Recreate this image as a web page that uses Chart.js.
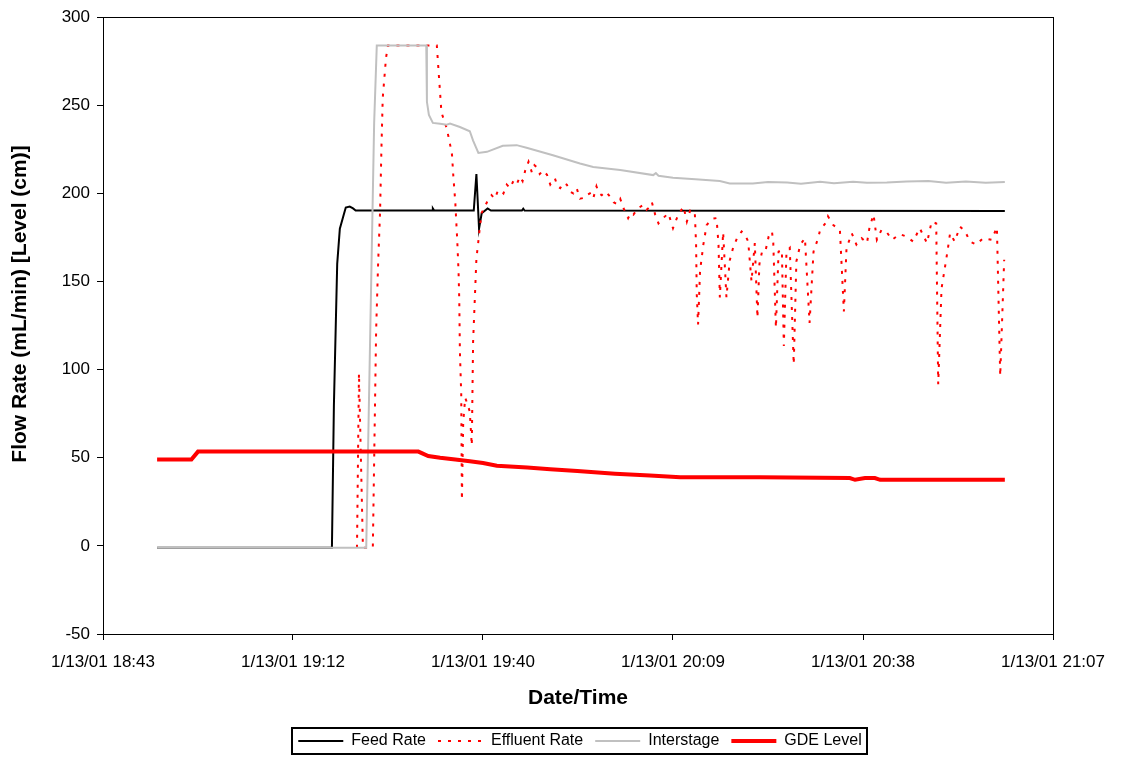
<!DOCTYPE html>
<html>
<head>
<meta charset="utf-8">
<script src="https://cdn.jsdelivr.net/npm/chart.js@4.4.1/dist/chart.umd.min.js"></script>
<style>
  html, body { margin: 0; padding: 0; background: #fff; }
  canvas { display: block; }
</style>
</head>
<body>
<canvas id="flowChart" width="1121" height="757"></canvas>
<script>
// Times are minutes since midnight on 1/13/01
const feedTime = [1131.4, 1157.9, 1158.2, 1158.7, 1159.1, 1159.7, 1160.0, 1160.6, 1161.1, 1161.5,
    1173.1, 1173.2, 1173.4, 1179.4, 1179.8, 1180.2, 1180.6, 1181.5, 1182.0,
    1186.7, 1186.9, 1187.1, 1259.9];
const feedRate = [-1, -1, 80, 160, 180, 188, 192, 192.5, 191.5, 190.3,
    190.3, 191.5, 190.3, 190.3, 211, 180, 188.7, 191.5, 190.3,
    190.3, 191.3, 190.3, 190];

// effluent sits under the interstage trace until ~19:21, so it is drawn from there
const effluentTime = [1161.7, 1162.0, 1162.6, 1164.1, 1164.6, 1164.9, 1165.2, 1165.4, 1165.6,
    1166.1, 1166.4, 1173.8, 1174.0, 1174.5, 1175.3, 1175.8, 1176.1, 1176.3, 1176.6,
    1176.9, 1177.1, 1177.2, 1177.3, 1177.5, 1177.6, 1177.8, 1178.1, 1178.5, 1178.8,
    1179.1, 1179.3, 1179.6, 1179.8, 1180.1, 1180.3, 1180.6, 1181.0, 1181.4, 1181.8,
    1182.1, 1182.6, 1183.0, 1183.4, 1183.9, 1184.4, 1184.9, 1185.4, 1185.9, 1186.4,
    1186.8, 1187.2, 1187.7, 1188.2, 1188.6, 1188.9, 1189.4, 1189.9, 1190.5, 1191.0,
    1191.7, 1192.1, 1192.5, 1193.0, 1193.5, 1194.0, 1194.5, 1195.0, 1195.5, 1196.3,
    1196.5, 1197.0, 1197.5, 1198.0, 1198.4, 1198.8, 1199.4, 1200.1, 1200.6, 1201.1,
    1201.6, 1202.1, 1202.8, 1203.2, 1203.6, 1204.3, 1205.1, 1205.6, 1206.0, 1206.4,
    1206.9, 1207.4, 1208.1, 1208.9, 1209.6, 1210.4, 1211.2, 1211.7, 1212.2, 1212.9,
    1213.1, 1213.2, 1213.4, 1213.7, 1214.2, 1214.7, 1215.5, 1216.2, 1216.5, 1216.7,
    1217.2, 1217.7, 1218.2, 1218.7, 1219.3, 1220.0, 1220.5, 1221.0, 1221.5, 1222.0,
    1222.4, 1222.7, 1223.1, 1223.6, 1224.1, 1224.6, 1224.8, 1225.2, 1225.6, 1226.1,
    1226.4, 1226.8, 1227.3, 1227.9, 1228.3, 1228.9, 1229.6, 1230.3, 1230.9, 1231.6,
    1231.9, 1232.9, 1233.1, 1233.9, 1234.9, 1235.5, 1235.9, 1236.7, 1237.4, 1238.2,
    1239.0, 1239.4, 1240.0, 1240.5, 1241.2, 1242.0, 1242.8, 1244.0, 1245.0, 1246.0,
    1247.0, 1248.1, 1248.8, 1249.5, 1249.8, 1250.3, 1250.8, 1251.2, 1251.6, 1252.3,
    1253.1, 1253.9, 1254.6, 1255.6, 1256.6, 1257.9, 1258.7, 1259.2, 1259.8];
const effluentRate = [-1, 98, -1, -1, 122, 160, 190, 225, 254,
    277, 284, 284, 273, 246, 237, 228, 222, 210, 195,
    173, 155, 140, 110, 86, 26, 70, 84, 80, 76,
    57, 116, 144, 163, 173, 180, 189, 192, 195, 197,
    199, 197, 201, 202, 200, 205, 203, 207, 205, 209.5,
    207, 213, 218, 212, 216, 215, 211, 213, 210.6, 205,
    208.5, 204, 203, 206, 205, 201, 200, 203, 197, 197.6,
    199, 200, 197, 204, 200, 199, 201, 198, 195, 194,
    197, 191.6, 186, 189, 188, 191.6, 193.5, 190.7, 192, 195,
    188, 183, 186, 188.7, 180.3, 188, 192.5, 184, 190.3, 189.7,
    171, 143, 125.6, 156, 171, 182, 185.6, 186, 171, 141,
    178, 141, 162, 169, 174.6, 178.4, 176.6, 172.7, 150, 171.8,
    129.4, 160, 167, 167, 175.6, 178.4, 172, 123.7, 167, 168,
    113.4, 167, 169, 103, 161.4, 171, 174.6, 126.5, 167, 174.6,
    179.3, 184, 187, 182, 179.3, 133, 169, 177.4, 171, 174.6,
    171.8, 181, 188, 173.7, 179.3, 178, 173.7, 176.9, 175.5, 172.7,
    180.3, 171.8, 184, 183, 91.7, 146, 157.6, 167, 177.4, 172.7,
    181.2, 178.4, 172.7, 171, 174.6, 173.7, 180.7, 96.4, 162.4];

const interTime = [1131.4, 1163.1, 1164.3, 1164.7, 1172.2, 1172.3, 1172.6, 1173.2, 1174.3, 1175.3,
    1175.8, 1177.3, 1178.8, 1179.3, 1180.1, 1181.4, 1183.8, 1185.9, 1187.4, 1191.4,
    1195.5, 1197.5, 1201.6, 1206.6, 1207.0, 1207.4, 1209.6, 1213.0, 1216.7, 1218.2,
    1221.7, 1224.0, 1226.9, 1229.0, 1231.9, 1234.0, 1236.9, 1239.0, 1242.0, 1245.0,
    1248.3, 1251.0, 1254.0, 1257.0, 1259.9];
const interLevel = [-1, -1, 240, 284, 284, 252, 244.5, 240, 239.5, 239,
    239.6, 237.7, 235.3, 230, 223, 223.6, 227, 227.4, 225.9, 221.7,
    217, 215, 213.3, 210.4, 211.5, 210, 208.9, 208, 207, 205.7,
    205.7, 206.5, 206.2, 205.5, 206.6, 205.8, 206.6, 206, 206.2, 206.8,
    207, 206, 206.8, 206, 206.5];

const gdeTime = [1131.4, 1136.6, 1137.6, 1171.0, 1172.5, 1174.3, 1176.6, 1178.8, 1180.8, 1182.9,
    1187.5, 1191.0, 1195.1, 1200.8, 1206.1, 1210.7, 1222.8, 1236.4, 1237.2, 1238.7,
    1240.2, 1241.0, 1259.9];
const gdeLevel = [49, 49, 53.5, 53.5, 51, 50, 49, 48, 47, 45.5,
    44.5, 43.5, 42.5, 41, 40, 39, 39, 38.5, 37.5, 38.5,
    38.5, 37.5, 37.5];

const xTickValues = [1123.2, 1152, 1180.8, 1209.6, 1238.4, 1267.2];
const xTickLabels = ['1/13/01 18:43', '1/13/01 19:12', '1/13/01 19:40', '1/13/01 20:09', '1/13/01 20:38', '1/13/01 21:07'];
const yTitle = 'Flow Rate (mL/min) [Level (cm)]';

const FONT = '"Liberation Sans", Arial, sans-serif';
const LEGEND_CENTER_X = 580;
const Y_TITLE_POS = { x: 20, y: 304 };

const toPoints = (times, values) => times.map((t, i) => ({ x: t, y: values[i] }));

// frame round the plot, boxed legend and the vertical axis title
const framePlugin = {
    id: 'frame',
    afterUpdate(chart) {
        const legend = chart.legend;
        if (!legend || !legend.legendHitBoxes || !legend.legendHitBoxes.length) return;
        const boxes = legend.legendHitBoxes;
        const mid = (Math.min(...boxes.map(b => b.left)) + Math.max(...boxes.map(b => b.left + b.width))) / 2;
        const dx = LEGEND_CENTER_X - mid;
        legend.left += dx;
        legend.right += dx;
        boxes.forEach(b => { b.left += dx; });
    },
    afterDatasetsDraw(chart) {
        const { ctx, chartArea: a } = chart;
        ctx.save();
        ctx.strokeStyle = '#000';
        ctx.lineWidth = 1;
        ctx.strokeRect(Math.round(a.left) + 0.5, Math.round(a.top) + 0.5,
            Math.round(a.right - a.left), Math.round(a.bottom - a.top));
        ctx.restore();
    },
    afterDraw(chart) {
        const { ctx } = chart;
        ctx.save();
        ctx.translate(Y_TITLE_POS.x, Y_TITLE_POS.y);
        ctx.rotate(-Math.PI / 2);
        ctx.fillStyle = '#000';
        ctx.font = 'bold 21px ' + FONT;
        ctx.textAlign = 'center';
        ctx.textBaseline = 'middle';
        ctx.fillText(yTitle, 0, 0);
        ctx.restore();

        const boxes = chart.legend && chart.legend.legendHitBoxes;
        if (!boxes || !boxes.length) return;
        const left = Math.min(...boxes.map(b => b.left)) - 6;
        const right = Math.max(...boxes.map(b => b.left + b.width)) + 6;
        const top = Math.min(...boxes.map(b => b.top)) - 5;
        const bottom = Math.max(...boxes.map(b => b.top + b.height)) + 5;
        ctx.save();
        ctx.strokeStyle = '#000';
        ctx.lineWidth = 2;
        ctx.strokeRect(Math.round(left), Math.round(top), Math.round(right - left), Math.round(bottom - top));
        ctx.restore();
    }
};

new Chart(document.getElementById('flowChart'), {
    type: 'line',
    data: {
        datasets: [
            {
                label: 'Feed Rate',
                data: toPoints(feedTime, feedRate),
                borderColor: '#000000',
                backgroundColor: '#000000',
                borderWidth: 2,
                order: 4
            },
            {
                label: 'Effluent Rate',
                data: toPoints(effluentTime, effluentRate),
                borderColor: '#ff0000',
                backgroundColor: '#ff0000',
                borderWidth: 2,
                borderDash: [3, 7],
                order: 3
            },
            {
                label: 'Interstage',
                data: toPoints(interTime, interLevel),
                borderColor: '#c0c0c0',
                backgroundColor: '#c0c0c0',
                borderWidth: 2,
                order: 2
            },
            {
                label: 'GDE Level',
                data: toPoints(gdeTime, gdeLevel),
                borderColor: '#ff0000',
                backgroundColor: '#ff0000',
                borderWidth: 4,
                order: 1
            }
        ]
    },
    options: {
        responsive: false,
        animation: false,
        events: [],
        elements: {
            line: { tension: 0, fill: false, borderJoinStyle: 'miter' },
            point: { radius: 0, pointStyle: 'line' }
        },
        layout: { padding: { left: 0, top: 15, right: 68, bottom: -2 } },
        plugins: {
            tooltip: { enabled: false },
            legend: {
                position: 'bottom',
                labels: {
                    usePointStyle: true,
                    pointStyle: 'line',
                    pointStyleWidth: 45,
                    boxHeight: 10,
                    padding: 12,
                    color: '#000',
                    font: { family: FONT, size: 16 },
                    sort: (a, b) => a.datasetIndex - b.datasetIndex,
                    generateLabels: chart => Chart.defaults.plugins.legend.labels.generateLabels(chart).map(item => {
                        const ds = chart.data.datasets[item.datasetIndex];
                        item.lineDash = ds.borderDash || [];
                        item.lineWidth = ds.borderWidth;
                        item.strokeStyle = ds.borderColor;
                        return item;
                    })
                }
            }
        },
        scales: {
            x: {
                type: 'linear',
                min: 1123.2,
                max: 1267.2,
                afterBuildTicks: scale => { scale.ticks = xTickValues.map(value => ({ value })); },
                afterFit: scale => { scale.height = 87; },
                ticks: {
                    callback: (value, index) => xTickLabels[index],
                    color: '#000',
                    font: { family: FONT, size: 17 },
                    padding: 12,
                    maxRotation: 0,
                    autoSkip: false
                },
                grid: { drawOnChartArea: false, drawTicks: true, tickLength: 6, color: '#000' },
                border: { display: true, color: '#000' },
                title: {
                    display: true,
                    text: 'Date/Time',
                    color: '#000',
                    font: { family: FONT, size: 21, weight: 'bold' },
                    padding: { top: 8, bottom: 10 }
                }
            },
            y: {
                min: -50,
                max: 300,
                afterFit: scale => { scale.width = 103; },
                ticks: {
                    stepSize: 50,
                    color: '#000',
                    font: { family: FONT, size: 17 },
                    padding: 7
                },
                grid: { drawOnChartArea: false, drawTicks: true, tickLength: 6, color: '#000' },
                border: { display: true, color: '#000' }
            }
        }
    },
    plugins: [framePlugin]
});
</script>
</body>
</html>
